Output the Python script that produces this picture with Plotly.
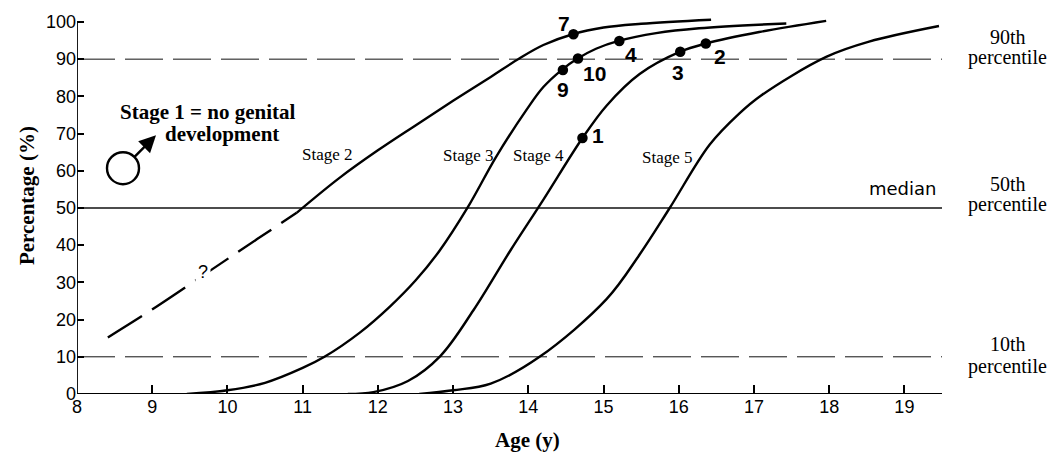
import plotly.graph_objects as go

# ---------------- data ----------------
stage2_dashed_age = [8.41, 9.06, 9.81, 10.40, 10.92]
stage2_dashed_pct = [15.2, 23.5, 33.7, 41.7, 48.7]

stage2_age = [10.92, 11.49, 12.0, 12.5, 13.0, 13.5, 13.89, 14.2, 14.59, 15.0, 15.5, 16.43]
stage2_pct = [48.7, 58.1, 65.5, 72.2, 78.8, 85.2, 90.3, 93.8, 96.7, 98.5, 99.5, 100.6]

stage3_age = [9.46, 10.0, 10.5, 11.0, 11.29, 11.76, 12.16, 12.5, 12.82, 13.19, 13.58, 13.98,
              14.2, 14.45, 14.65, 14.9, 15.2, 15.7, 16.27, 17.43]
stage3_pct = [0, 1, 3, 7, 10, 16.5, 23.5, 30.5, 38.5, 50, 64, 76.5,
              82.5, 87.2, 90.1, 92.8, 94.9, 97.0, 98.3, 99.6]

stage4_age = [11.6, 11.94, 12.4, 12.83, 13.27, 13.76, 14.19, 14.72, 15.04, 15.48, 16.02, 16.36, 17.07, 17.96]
stage4_pct = [0, 0.5, 3.5, 10.2, 22.5, 38.5, 51.9, 68.8, 77.5, 86, 92, 94.2, 97.3, 100.3]

stage5_age = [12.55, 13.0, 13.5, 14.15, 15.04, 15.48, 15.88, 16.41, 16.8, 17.1, 17.96, 18.53, 19.46]
stage5_pct = [0, 1, 2.8, 10, 25.5, 37.5, 50, 67.0, 75.3, 80.3, 90.6, 94.7, 98.9]

point_labels = ["7", "9", "10", "4", "1", "3", "2"]
point_age = [14.60, 14.46, 14.66, 15.21, 14.72, 16.02, 16.36]
point_pct = [96.7, 87.1, 90.2, 94.9, 68.8, 92.0, 94.2]

stage_labels = ["Stage 2", "Stage 3", "Stage 4", "Stage 5"]
percentile_levels = [90, 50, 10]
percentile_labels = [("90th", "percentile"), ("50th", "percentile"), ("10th", "percentile")]

x_ticks = list(range(8, 20))
y_ticks = list(range(0, 101, 10))

# ---------------- layout geometry (page pixels of the reference) ----------------
OFF = 8                      # default body margin of the html page
W, H = 1056 - 2 * OFF, 458 - OFF
L, R, T, B = 77, 942, 12, 394  # plot area in page pixels
X0, X1 = 8, 19.5
Y0 = 0
Y1 = (B - T) / 3.74


def pxp(px):
    return (px - L) / (R - L)


def pyp(py):
    return (B - py) / (B - T)


def dx(px):
    return X0 + (px - L) / (R - L) * (X1 - X0)


def dy(py):
    return Y0 + (B - py) / (B - T) * (Y1 - Y0)


SERIF = "Liberation Serif"
SANS = "Liberation Sans"
CW = 2.4

fig = go.Figure()


def text(px, py, txt, font, **kw):
    fig.add_annotation(x=pxp(px), y=pyp(py), xref="paper", yref="paper", text=txt,
                       showarrow=False, xanchor="center", yanchor="middle",
                       font=font, **kw)


# percentile reference lines
for lvl in percentile_levels:
    fig.add_shape(type="line", xref="x", yref="y", x0=X0, x1=X1, y0=lvl, y1=lvl,
                  line=dict(color="#111111", width=1.3 if lvl == 50 else 1.0,
                            dash="solid" if lvl == 50 else "38px,10px"),
                  layer="below")

# curves
fig.add_trace(go.Scatter(x=stage2_dashed_age, y=stage2_dashed_pct, mode="lines",
                         line=dict(color="black", width=CW, dash="40px,12px", shape="spline"),
                         showlegend=False, hoverinfo="skip"))
for xs, ys in [(stage2_age, stage2_pct), (stage3_age, stage3_pct),
               (stage4_age, stage4_pct), (stage5_age, stage5_pct)]:
    fig.add_trace(go.Scatter(x=xs, y=ys, mode="lines",
                             line=dict(color="black", width=CW, shape="spline", smoothing=1.0),
                             showlegend=False, hoverinfo="skip"))

# numbered points
fig.add_trace(go.Scatter(x=point_age, y=point_pct, mode="markers",
                         marker=dict(color="black", size=10.5),
                         showlegend=False, hoverinfo="skip"))
label_shift = {"7": (-9, 11), "9": (0, -20), "10": (17, -15), "4": (12, -14),
               "1": (16, 2.5), "3": (-2, -21), "2": (14, -12.5)}
for lab, a, p in zip(point_labels, point_age, point_pct):
    sx, sy = label_shift[lab]
    fig.add_annotation(x=a, y=p, xref="x", yref="y", text=lab, showarrow=False,
                       xanchor="center", yanchor="middle", xshift=sx, yshift=sy,
                       font=dict(family=SANS, size=21, color="black", weight="bold"))

# axis lines
fig.add_shape(type="line", xref="x", yref="y", x0=X0, x1=X1, y0=0, y1=0,
              line=dict(color="black", width=2))
fig.add_shape(type="line", xref="x", yref="y", x0=X0, x1=X0, y0=0, y1=100,
              line=dict(color="black", width=1.8))

# stage labels
stage_pos = [(327, 153), (468, 154), (538, 154), (667, 156)]
for lab, (px, py) in zip(stage_labels, stage_pos):
    text(px, py, lab, dict(family=SERIF, size=17, color="black"))

# question mark in a gap of the dashed part
text(203, 271, "?", dict(family=SANS, size=18, color="black"), bgcolor="white", borderpad=2)

# median text
text(902, 187, "median", dict(family="DejaVu Sans", size=18, color="black"))

# right side percentile labels
right_pos = [(35, 56), (183, 203), (344, 366)]
for (l1, l2), (y1, y2) in zip(percentile_labels, right_pos):
    text(1008, y1, l1, dict(family=SERIF, size=20, color="black"))
    text(1007, y2, l2, dict(family=SERIF, size=20, color="black"))

# Stage 1 note
text(207.5, 111, "Stage 1 = no genital", dict(family=SERIF, size=21, color="black", weight="bold"))
text(221.5, 133, "development", dict(family=SERIF, size=21, color="black", weight="bold"))

# male symbol
fig.add_shape(type="circle", xref="x", yref="y", xsizemode="pixel", ysizemode="pixel",
              xanchor=dx(123), yanchor=dy(167), x0=-16, x1=16, y0=-16, y1=16,
              line=dict(color="black", width=2.4))
fig.add_annotation(x=dx(156), y=dy(134), xref="x", yref="y", ax=-23, ay=23,
                   axref="pixel", ayref="pixel", text="", showarrow=True,
                   arrowhead=2, arrowsize=1.4, arrowwidth=2.4, arrowcolor="black",
                   standoff=0, startstandoff=0)

# axis titles
text(527, 440, "Age (y)", dict(family=SERIF, size=21, color="black", weight="bold"))
text(27, 195, "Percentage (%)", dict(family=SERIF, size=21, color="black", weight="bold"),
     textangle=-90)

fig.update_layout(
    width=W, height=H, autosize=False,
    margin=dict(l=L - OFF, r=W - (R - OFF), t=T - OFF, b=H - (B - OFF)),
    paper_bgcolor="white", plot_bgcolor="white",
    xaxis=dict(range=[X0, X1], tickvals=x_ticks, ticktext=[str(v) for v in x_ticks],
               ticks="inside", ticklen=9, tickwidth=1.5, tickcolor="black",
               showgrid=False, zeroline=False, showline=False,
               tickfont=dict(family=SANS, size=18, color="black")),
    yaxis=dict(range=[Y0, Y1], tickvals=y_ticks, ticktext=[str(v) for v in y_ticks],
               ticks="inside", ticklen=7, tickwidth=1.5, tickcolor="black",
               showgrid=False, zeroline=False, showline=False,
               tickfont=dict(family=SANS, size=18, color="black")),
)

fig.write_html("out.html")
